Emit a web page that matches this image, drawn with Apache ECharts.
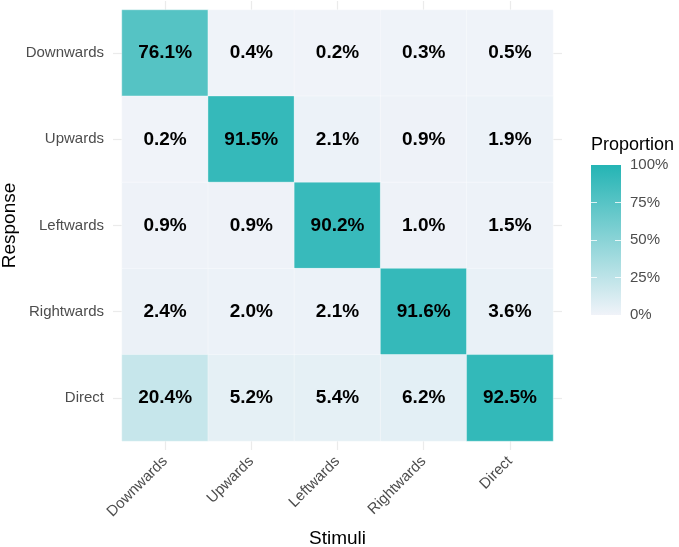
<!DOCTYPE html>
<html>
<head>
    <meta charset="utf-8">
    <title>Confusion matrix</title>
    <script src="https://cdn.jsdelivr.net/npm/echarts@6/dist/echarts.min.js"></script>
</head>
<body style="margin:0">
    <div id="main" style="width:679px;height:547px;"></div>
    <script type="text/javascript">

        var stimuli = ['Downwards', 'Upwards', 'Leftwards', 'Rightwards', 'Direct'];
        var responses = ['Downwards', 'Upwards', 'Leftwards', 'Rightwards', 'Direct'];
        // one row per response, values in percent for each stimulus
        var rowDownwards  = [76.1, 0.4, 0.2, 0.3, 0.5];
        var rowUpwards    = [0.2, 91.5, 2.1, 0.9, 1.9];
        var rowLeftwards  = [0.9, 0.9, 90.2, 1.0, 1.5];
        var rowRightwards = [2.4, 2.0, 2.1, 91.6, 3.6];
        var rowDirect     = [20.4, 5.2, 5.4, 6.2, 92.5];
        var legendTicks = [0, 25, 50, 75, 100];

        var rows = [rowDownwards, rowUpwards, rowLeftwards, rowRightwards, rowDirect];
        var cells = [];
        rows.forEach(function (row, r) {
            row.forEach(function (v, c) {
                cells.push([c, r, v]);
            });
        });

        var lowColor = '#f0f3f9';
        var highColor = '#24b4b4';
        var gridColor = '#ebebeb';
        var labelColor = '#4d4d4d';
        var font = 'Liberation Sans, Arial, sans-serif';
        var innerTicks = legendTicks.slice(1, -1);

        var myChart = echarts.init(document.getElementById('main'));
        var option = {
            animation: false,
            textStyle: { fontFamily: font },
            grid: [
                { left: 122, top: 10, width: 431, height: 431, outerBoundsMode: 'none', containLabel: false },
                { left: 591, top: 165, width: 30, height: 150, outerBoundsMode: 'none', containLabel: false }
            ],
            visualMap: {
                show: false,
                seriesIndex: 0,
                min: 0,
                max: 100,
                inRange: { color: [lowColor, highColor] }
            },
            xAxis: [
                {
                    type: 'category', gridIndex: 0, data: stimuli, position: 'bottom',
                    name: 'Stimuli', nameLocation: 'middle', nameGap: 88,
                    nameTextStyle: { fontSize: 19, color: '#000' },
                    axisLine: { show: false },
                    axisTick: { show: true, alignWithLabel: true, length: 9, lineStyle: { color: gridColor, width: 1.2 } },
                    axisLabel: { rotate: 45, fontSize: 15, color: labelColor, margin: 18 },
                    splitLine: { show: false }
                },
                {
                    type: 'category', gridIndex: 0, data: stimuli, position: 'top',
                    axisLine: { show: false },
                    axisTick: { show: true, alignWithLabel: true, length: 9, lineStyle: { color: gridColor, width: 1.2 } },
                    axisLabel: { show: false }
                },
                {
                    type: 'category', gridIndex: 1, data: [''],
                    show: false
                }
            ],
            yAxis: [
                {
                    type: 'category', gridIndex: 0, data: responses, inverse: true, position: 'left',
                    name: 'Response', nameLocation: 'middle', nameGap: 103, nameRotate: 90,
                    nameMoveOverlap: false,
                    nameTextStyle: { fontSize: 19, color: '#000' },
                    axisLine: { show: false },
                    axisTick: { show: true, alignWithLabel: true, length: 9, lineStyle: { color: gridColor, width: 1.2 } },
                    axisLabel: { fontSize: 15, color: labelColor, margin: 18 }
                },
                {
                    type: 'category', gridIndex: 0, data: responses, inverse: true, position: 'right',
                    axisLine: { show: false },
                    axisTick: { show: true, alignWithLabel: true, length: 9, lineStyle: { color: gridColor, width: 1.2 } },
                    axisLabel: { show: false }
                },
                {
                    type: 'value', gridIndex: 1, position: 'right', z: 5,
                    min: legendTicks[0], max: legendTicks[legendTicks.length - 1], interval: 25,
                    axisLine: { show: false },
                    axisTick: { show: true, inside: true, length: 6, customValues: innerTicks,
                                lineStyle: { color: 'rgba(255,255,255,0.8)', width: 1 } },
                    splitLine: { show: false },
                    axisLabel: { fontSize: 15, color: labelColor, margin: 9, formatter: '{value}%' }
                },
                {
                    type: 'value', gridIndex: 1, position: 'left', z: 5,
                    min: legendTicks[0], max: legendTicks[legendTicks.length - 1], interval: 25,
                    axisLine: { show: false },
                    axisTick: { show: true, inside: true, length: 6, customValues: innerTicks,
                                lineStyle: { color: 'rgba(255,255,255,0.8)', width: 1 } },
                    splitLine: { show: false },
                    axisLabel: { show: false }
                }
            ],
            graphic: [
                {
                    type: 'text', left: 591, top: 136,
                    style: { text: 'Proportion', fontSize: 18, fill: '#000', fontFamily: font }
                }
            ],
            series: [
                {
                    type: 'heatmap',
                    xAxisIndex: 0,
                    yAxisIndex: 0,
                    data: cells,
                    itemStyle: { borderColor: 'rgba(255,255,255,0.6)', borderWidth: 0.6 },
                    label: {
                        show: true,
                        fontSize: 19,
                        fontWeight: 'bold',
                        color: '#000',
                        formatter: function (p) { return p.value[2].toFixed(1) + '%'; }
                    },
                    emphasis: { disabled: true }
                },
                {
                    type: 'bar',
                    xAxisIndex: 2,
                    yAxisIndex: 2,
                    barWidth: '100%',
                    silent: true,
                    data: [legendTicks[legendTicks.length - 1]],
                    itemStyle: {
                        color: new echarts.graphic.LinearGradient(0, 0, 0, 1, [
                            { offset: 0, color: highColor },
                            { offset: 1, color: lowColor }
                        ])
                    }
                }
            ]
        };
        myChart.setOption(option);

    </script>
</body>
</html>
